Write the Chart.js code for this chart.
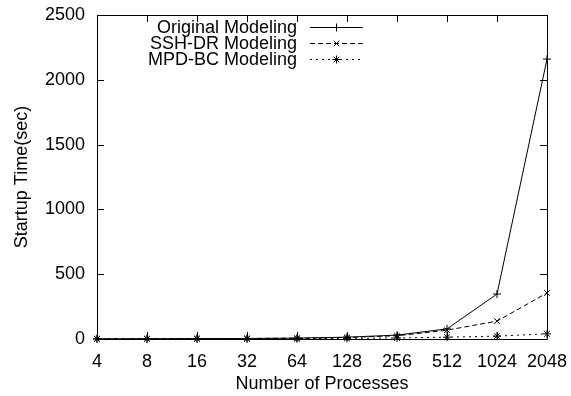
<!DOCTYPE html>
<html>
<head>
<meta charset="utf-8">
<script src="https://cdn.jsdelivr.net/npm/chart.js@4/dist/chart.umd.min.js"></script>
<style>
html,body{margin:0;padding:0;background:#fff;}
#wrap{width:571px;height:396px;}
</style>
</head>
<body>
<div id="wrap"><canvas id="c" width="571" height="396"></canvas></div>
<script>
const categories = ['4','8','16','32','64','128','256','512','1024','2048'];
const originalModeling = [1, 2, 3, 4, 7, 14, 30, 78, 347, 2160];
const sshDrModeling = [1, 2, 3, 4, 6, 12, 25, 68, 138, 355];
const mpdBcModeling = [1, 1, 2, 2, 3, 5, 8, 14, 22, 40];
const yTicks = [0, 500, 1000, 1500, 2000, 2500];
const seriesNames = ['Original Modeling', 'SSH-DR Modeling', 'MPD-BC Modeling'];

const FONT = 'Liberation Sans, Arial, Helvetica, sans-serif';
const FS = 18;

const frame = {
  id: 'frame',
  afterDatasetsDraw(chart) {
    const ctx = chart.ctx, a = chart.chartArea;
    const xs = chart.scales.x, ys = chart.scales.y;
    const tl = 7;
    ctx.save();
    ctx.strokeStyle = '#000';
    ctx.lineWidth = 1;
    ctx.setLineDash([]);
    ctx.beginPath();
    ctx.rect(Math.round(a.left)+0.5, Math.round(a.top)+0.5, Math.round(a.right-a.left), Math.round(a.bottom-a.top));
    ctx.stroke();
    ctx.beginPath();
    for (let i = 0; i < categories.length; i++) {
      const x = Math.round(xs.getPixelForValue(i)) + 0.5;
      ctx.moveTo(x, a.bottom); ctx.lineTo(x, a.bottom - tl);
      ctx.moveTo(x, a.top); ctx.lineTo(x, a.top + tl);
    }
    yTicks.forEach(v => {
      const y = Math.round(ys.getPixelForValue(v)) + 0.5;
      ctx.moveTo(a.left, y); ctx.lineTo(a.left + tl, y);
      ctx.moveTo(a.right, y); ctx.lineTo(a.right - tl, y);
    });
    ctx.stroke();

    // gnuplot-style legend
    ctx.font = FS + 'px ' + FONT;
    ctx.fillStyle = '#000';
    ctx.textAlign = 'right';
    ctx.textBaseline = 'middle';
    const textRight = 297, x0 = 310, x1 = 363, rowY = [27, 43, 59];
    chart.data.datasets.forEach((ds, i) => {
      const y = rowY[i];
      ctx.fillText(ds.label, textRight, y + 1);
      ctx.save();
      ctx.strokeStyle = '#000';
      ctx.lineWidth = 1;
      ctx.setLineDash(ds.borderDash || []);
      ctx.beginPath();
      ctx.moveTo(x0, y + 0.5); ctx.lineTo(x1, y + 0.5);
      ctx.stroke();
      ctx.setLineDash([]);
      Chart.helpers.drawPoint(ctx, {pointStyle: ds.pointStyle, radius: ds.pointRadius, borderWidth: 1, rotation: 0}, (x0 + x1) / 2, y + 0.5);
      ctx.restore();
    });
    ctx.restore();
  }
};

const mk = (label, data, dash, style) => ({
  label, data,
  borderColor: '#000', backgroundColor: '#000',
  borderWidth: 1, borderDash: dash,
  pointStyle: style, pointRadius: 4, pointBorderWidth: 1,
  pointBorderColor: '#000', pointBackgroundColor: '#000',
  tension: 0, fill: false, clip: false
});

new Chart(document.getElementById('c'), {
  type: 'line',
  data: {
    labels: categories,
    datasets: [
      mk(seriesNames[0], originalModeling, [], 'cross'),
      mk(seriesNames[1], sshDrModeling, [5, 3], 'crossRot'),
      mk(seriesNames[2], mpdBcModeling, [2, 4], 'star')
    ]
  },
  options: {
    responsive: false,
    animation: false,
    devicePixelRatio: 1,
    layout: { padding: { left: 0, right: 24, top: 15, bottom: 0 } },
    plugins: { legend: { display: false }, tooltip: { enabled: false } },
    scales: {
      x: {
        type: 'category',
        offset: false,
        grid: { display: false, drawTicks: false },
        border: { display: false },
        ticks: { color: '#000', font: { family: FONT, size: FS }, padding: 12, maxRotation: 0, autoSkip: false },
        title: { display: true, text: 'Number of Processes', color: '#000', font: { family: FONT, size: FS }, padding: { top: 0, bottom: 1 } },
        afterFit(s) { s.height = 57; s.paddingLeft = 0; s.paddingRight = 0; }
      },
      y: {
        min: 0, max: 2500,
        grid: { display: false, drawTicks: false },
        border: { display: false },
        ticks: { stepSize: 500, color: '#000', font: { family: FONT, size: FS }, padding: 12, callback: v => String(v) },
        title: { display: true, text: 'Startup Time(sec)', color: '#000', font: { family: FONT, size: FS }, padding: { top: 11, bottom: 0 } },
        afterFit(s) { s.width = 97; s.paddingTop = 0; s.paddingBottom = 0; }
      }
    }
  },
  plugins: [frame]
});
</script>
</body>
</html>
